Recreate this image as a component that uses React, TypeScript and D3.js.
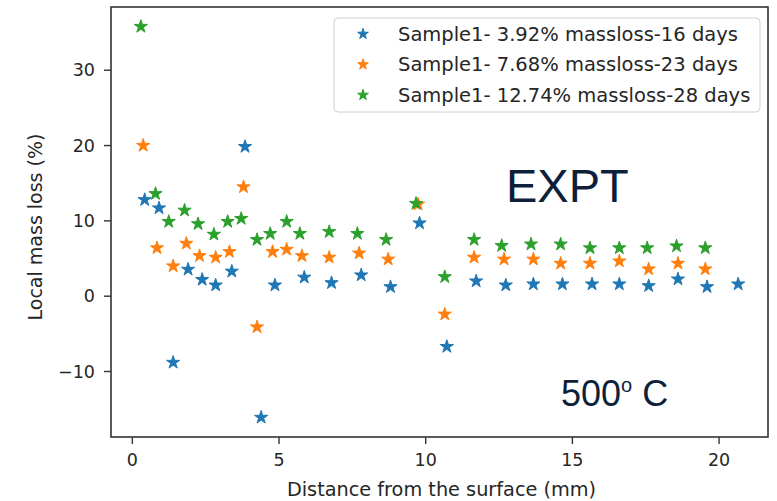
import React from "react";
import * as d3 from "d3";

const seriesNames = [
  "Sample1- 3.92% massloss-16 days",
  "Sample1- 7.68% massloss-23 days",
  "Sample1- 12.74% massloss-28 days",
];
const colors = ["#1f77b4", "#ff7f0e", "#2ca02c"];

const blueX = [0.42, 0.91, 1.39, 1.9, 2.38, 2.84, 3.39, 3.84, 4.39, 4.86, 5.86, 6.79, 7.8, 8.8, 9.79, 10.72, 11.72, 12.73, 13.67, 14.66, 15.67, 16.6, 17.6, 18.6, 19.59, 20.65];
const blueY = [12.8, 11.7, -8.8, 3.55, 2.2, 1.46, 3.3, 19.85, -16.1, 1.46, 2.5, 1.77, 2.8, 1.24, 9.7, -6.7, 2.0, 1.46, 1.6, 1.6, 1.6, 1.6, 1.37, 2.26, 1.24, 1.6];

const orangeX = [0.37, 0.84, 1.39, 1.84, 2.29, 2.84, 3.31, 3.79, 4.25, 4.78, 5.26, 5.78, 6.71, 7.73, 8.72, 9.74, 10.65, 11.65, 12.67, 13.67, 14.6, 15.6, 16.6, 17.6, 18.6, 19.53];
const orangeY = [20.0, 6.4, 4.0, 7.0, 5.36, 5.15, 5.9, 14.5, -4.1, 5.9, 6.2, 5.36, 5.15, 5.7, 4.9, 12.2, -2.4, 5.15, 4.9, 4.9, 4.35, 4.35, 4.65, 3.6, 4.35, 3.6];

const greenX = [0.29, 0.79, 1.24, 1.78, 2.24, 2.78, 3.25, 3.71, 4.25, 4.7, 5.26, 5.71, 6.71, 7.67, 8.65, 9.67, 10.65, 11.65, 12.59, 13.59, 14.6, 15.6, 16.6, 17.55, 18.55, 19.53];
const greenY = [35.8, 13.6, 9.9, 11.4, 9.6, 8.2, 9.9, 10.3, 7.5, 8.3, 9.9, 8.3, 8.55, 8.3, 7.5, 12.3, 2.57, 7.5, 6.7, 6.9, 6.9, 6.4, 6.4, 6.4, 6.65, 6.4];

const xTicks = [0, 5, 10, 15, 20];
const yTicks = [-10, 0, 10, 20, 30];

const xLabel = "Distance from the surface (mm)";
const yLabel = "Local mass loss (%)";

const W = 777;
const H = 501;
const left = 111;
const right = 768;
const top = 7;
const bottom = 437;

function padded(vals: number[]): [number, number] {
  const mn = d3.min(vals) as number;
  const mx = d3.max(vals) as number;
  const r = mx - mn;
  return [mn - 0.05 * r, mx + 0.05 * r];
}

export default function App() {
  const allX = [...blueX, ...orangeX, ...greenX];
  const allY = [...blueY, ...orangeY, ...greenY];
  const x = d3.scaleLinear().domain(padded(allX)).range([left, right]);
  const y = d3.scaleLinear().domain(padded(allY)).range([bottom, top]);
  const star = d3.symbol().type(d3.symbolStar).size(54)() as string;
  const legendStar = d3.symbol().type(d3.symbolStar).size(36)() as string;

  const series = [
    { xs: blueX, ys: blueY },
    { xs: orangeX, ys: orangeY },
    { xs: greenX, ys: greenY },
  ];

  const font = "'DejaVu Sans', sans-serif";
  const axisColor = "#333";

  return (
    <svg
      width={W}
      height={H}
      style={{ position: "absolute", left: 0, top: 0, background: "#fff" }}
      fontFamily={font}
    >
      <rect x={0} y={0} width={W} height={H} fill="#fff" />
      {series.map((s, si) =>
        s.xs.map((xv, i) => (
          <path
            key={`${si}-${i}`}
            d={star}
            transform={`translate(${x(xv)},${y(s.ys[i])})`}
            fill={colors[si]}
            stroke={colors[si]}
            strokeWidth={1}
            strokeLinejoin="round"
          />
        ))
      )}
      <rect
        x={left}
        y={top}
        width={right - left}
        height={bottom - top}
        fill="none"
        stroke={axisColor}
        strokeWidth={1.6}
      />
      {xTicks.map((t) => (
        <g key={`xt${t}`}>
          <line x1={x(t)} x2={x(t)} y1={bottom} y2={bottom + 7} stroke={axisColor} strokeWidth={1.4} />
          <text x={x(t)} y={bottom + 29} textAnchor="middle" fontSize={17.5} fill="#262626">
            {t}
          </text>
        </g>
      ))}
      {yTicks.map((t) => (
        <g key={`yt${t}`}>
          <line x1={left - 7} x2={left} y1={y(t)} y2={y(t)} stroke={axisColor} strokeWidth={1.4} />
          <text x={left - 16} y={y(t)} dy="0.35em" textAnchor="end" fontSize={17.5} fill="#262626">
            {t < 0 ? `\u2212${Math.abs(t)}` : t}
          </text>
        </g>
      ))}
      <text x={(left + right) / 2 + 2} y={496} textAnchor="middle" fontSize={19.3} fill="#262626">
        {xLabel}
      </text>
      <text
        transform={`translate(42,${(top + bottom) / 2 + 5}) rotate(-90)`}
        textAnchor="middle"
        fontSize={19}
        fill="#262626"
      >
        {yLabel}
      </text>
      <rect x={334} y={18} width={426} height={94} rx={4} fill="#fff" fillOpacity={0.8} stroke="#d0d0d0" strokeWidth={1} />
      {seriesNames.map((n, i) => (
        <g key={n}>
          <path
            d={legendStar}
            transform={`translate(363,${34 + i * 30.5})`}
            fill={colors[i]}
            stroke={colors[i]}
            strokeWidth={1}
          />
          <text x={398} y={34 + i * 30.5} dy="0.35em" fontSize={19.5} fill="#262626">
            {n}
          </text>
        </g>
      ))}
      <text x={506} y={202} fontFamily="'Liberation Sans', Arial, sans-serif" fontSize={47} fill="#0e1f3a">
        EXPT
      </text>
      <text x={561} y={406} fontFamily="'Liberation Sans', Arial, sans-serif" fontSize={36} fill="#0e1f3a">
        500
        <tspan fontSize={20} dy={-14}>o</tspan>
        <tspan dy={14}> C</tspan>
      </text>
    </svg>
  );
}
